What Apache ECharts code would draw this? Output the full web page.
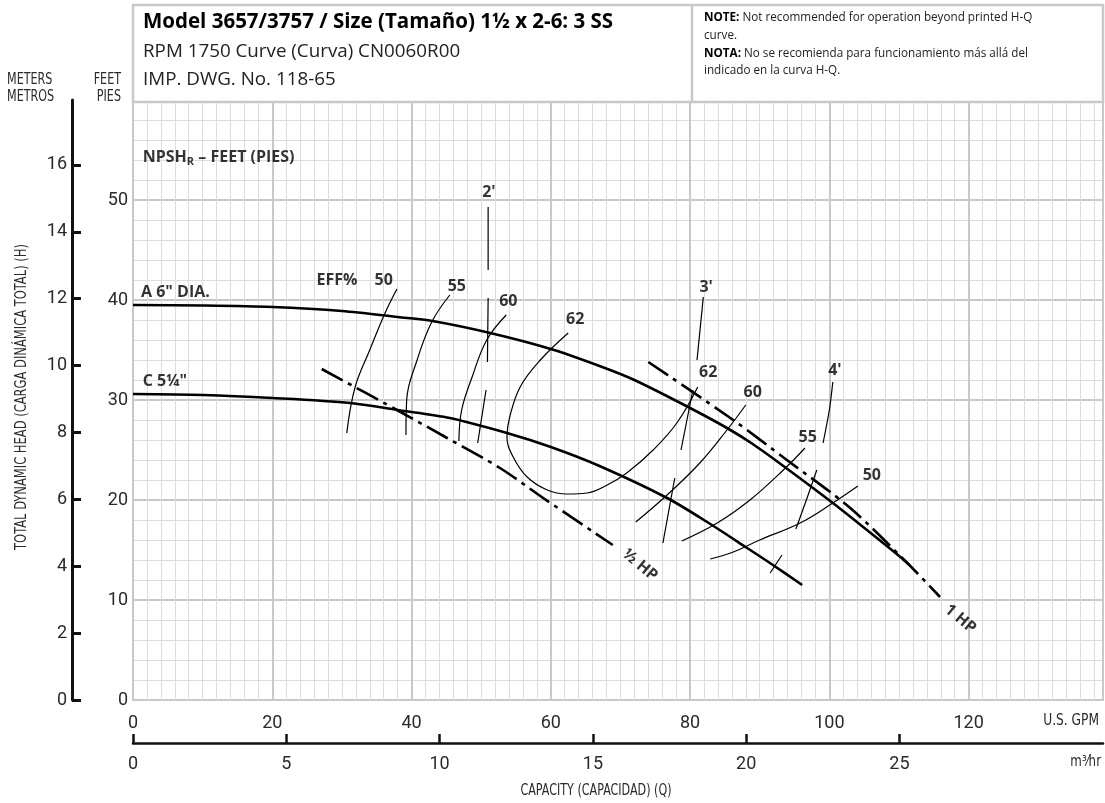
<!DOCTYPE html>
<html>
<head>
<meta charset="utf-8">
<script src="https://cdn.jsdelivr.net/npm/echarts@6/dist/echarts.min.js"></script>
<style>
  html, body { margin: 0; padding: 0; background: #fff; }
  #chart { width: 1105px; height: 803px; }
</style>
</head>
<body>
<div id="chart"></div>
<script>
// ---------- axis / tick data ----------
const gpmMax = 139.3;                 // right edge of the grid, U.S. GPM
const gpmPerM3h = 4.40287;            // 1 m3/hr = 4.40287 U.S. GPM
const gpmTicks = [0, 20, 40, 60, 80, 100, 120];
const m3hTicks = [0, 5, 10, 15, 20, 25];
const feetTicks = [0, 10, 20, 30, 40, 50];
const meterTicks = [0, 2, 4, 6, 8, 10, 12, 14, 16];
const feetMax = 60;
const meterMax = 17.94;

// ---------- head-capacity curves [GPM, feet] ----------
const headA = [[0,39.5],[10,39.45],[20,39.3],[30,38.9],[38,38.3],[43,37.9],[51.3,36.7],[60,35.1],[67,33.4],[72,32.0],[80,29.2],[85.3,27.2],[89,25.6],[93.4,23.4],[100.5,19.7],[105.4,17.0],[110.2,14.3],[111.5,13.5]];
const headC = [[0,30.6],[10,30.5],[20,30.2],[31.2,29.7],[38,29.0],[45.5,28.2],[53.7,26.7],[60,25.3],[67,23.4],[76.7,20.2],[82.9,17.6],[88.2,15.2],[91.9,13.5],[96.1,11.5]];

// ---------- horsepower lines ----------
const halfHp = [[27.1,33.1],[37.9,29.0],[45.1,26.2],[52.7,23.2],[58.9,20.2],[68.9,15.5]];
const oneHp = [[74,33.8],[86.2,28.0],[93.9,24.0],[103,19.2],[111.2,13.7],[115.9,10.3]];

// ---------- efficiency curves ----------
const eff50L = [[37.9,41.1],[36.2,38.7],[34.0,35.0],[31.9,31.3],[30.7,26.7]];
const eff55L = [[45.5,40.5],[42.9,37.8],[40.8,34.0],[39.3,30.0],[39.2,26.5]];
const eff60L = [[53.6,38.5],[50.8,36.0],[48.7,32.3],[47.2,29.0],[46.8,25.9]];
const eff62 = [[62.5,36.7],[58.5,34.0],[55.6,31.3],[54.1,28.3],[53.7,26.3],[54.6,24.3],[56.6,22.3],[59.5,21.0],[62.3,20.6],[65.2,20.7],[68.1,21.5],[70.9,22.7],[74.7,25.0],[78.1,27.7],[81.1,31.3]];
const eff60R = [[88,29.5],[85.3,27.0],[81.4,23.7],[76.7,20.5],[72.2,17.8]];
const eff55R = [[96.5,25.2],[93.4,23.0],[88.6,20.0],[83.9,17.7],[78.8,15.9]];
const eff50R = [[104.1,21.4],[100.5,19.7],[95.8,17.7],[90,16.0],[86.2,14.8],[82.9,14.1]];

// ---------- NPSHr lines (broken segments) ----------
const npsh2 = [[[51.0,49.3],[51.0,43.0]], [[51.0,40.2],[50.9,33.8]], [[50.7,31.0],[49.5,25.7]]];
const npsh3 = [[[81.9,40.3],[81.0,34.0]], [[80.4,31.0],[78.7,25.0]], [[77.8,22.2],[76.1,15.7]]];
const npsh4 = [[[100.5,31.8],[100.0,29.0],[99.1,25.7]], [[98.2,23.0],[96.7,20.0],[95.2,17.1]], [[93.2,14.5],[91.5,12.7]]];

// ---------- in-plot labels ----------
const centerLabelText = ['EFF%', '50', '55', '60', '62', '62', '60', '55', '50', "2'", "3'", "4'"];
const centerLabelPos = [[29.3,42.0],[36.0,42.0],[46.5,41.4],[53.9,39.9],[63.5,38.1],[82.6,32.8],[89.0,30.8],[96.9,26.3],[106.1,22.5],[51.1,50.8],[82.3,41.3],[100.8,33.0]];
const leftLabelText = ['A 6" DIA.', 'C 5¼"', 'NPSH{sub|R} – FEET (PIES)'];
const leftLabelPos = [[1.15,40.8],[1.4,31.9],[1.4,54.3]];
const hpLabelText = ['½ HP', '1 HP'];
const hpLabelPos = [[72.8,13.5],[118.8,8.1]];

const tickFont = "'Roboto', sans-serif";
const cond = "'DejaVu Sans Condensed', 'Roboto', sans-serif";
const sans = "'Open Sans', 'Noto Sans', sans-serif";
const tickColor = '#2a2a2a';

const chart = echarts.init(document.getElementById('chart'), null, { renderer: 'canvas' });

function line(data, width, extra) {
  return Object.assign({
    type: 'line', data: data, xAxisIndex: 1, yAxisIndex: 1,
    symbol: 'none', smooth: 0.3, silent: true,
    lineStyle: { color: '#000', width: width }
  }, extra || {});
}

const series = [];
series.push(line(headA, 2.6, { smooth: 0.3 }));
series.push(line(headC, 2.6, { smooth: 0.3 }));
series.push(line(halfHp, 2.6, { smooth: 0.3, lineStyle: { color: '#000', width: 2.6, type: [24, 6, 4, 6] } }));
series.push(line(oneHp, 2.6, { smooth: 0.3, lineStyle: { color: '#000', width: 2.6, type: [24, 6, 4, 6] } }));
[eff50L, eff55L, eff60L, eff62, eff60R, eff55R, eff50R].forEach(d => series.push(line(d, 1.2, { smooth: 0.4 })));
[npsh2, npsh3, npsh4].forEach(g => g.forEach(seg => series.push(line(seg, 1.2, { smooth: 0.3 }))));

series.push({
  type: 'scatter', xAxisIndex: 1, yAxisIndex: 1, symbolSize: 0, silent: true,
  data: centerLabelPos.map((p, i) => ({ value: p, name: centerLabelText[i] })),
  label: { show: true, position: 'inside', formatter: '{b}', color: '#000',
           fontFamily: sans, fontWeight: 'bold', fontSize: 16 }
});
series.push({
  type: 'scatter', xAxisIndex: 1, yAxisIndex: 1, symbolSize: 0, silent: true,
  data: leftLabelPos.map((p, i) => ({ value: p, name: leftLabelText[i] })),
  label: { show: true, position: 'right', distance: 0, formatter: '{b}', color: '#000',
           fontFamily: sans, fontWeight: 'bold', fontSize: 16,
           rich: { sub: { fontFamily: sans, fontWeight: 'bold', fontSize: 11, padding: [9, 0, 0, 0], color: '#000' } } }
});
series.push({
  type: 'scatter', xAxisIndex: 1, yAxisIndex: 1, symbolSize: 0, silent: true,
  data: hpLabelPos.map((p, i) => ({ value: p, name: hpLabelText[i] })),
  label: { show: true, position: 'inside', formatter: '{b}', color: '#000', rotate: -40,
           fontFamily: sans, fontWeight: 'bold', fontSize: 16 }
});

function condText(x, y, text, size, align, extra) {
  return Object.assign({
    type: 'text', x: x, y: y, scaleX: 0.8, silent: true,
    style: { text: text, fill: tickColor, font: size + 'px ' + cond, align: align, verticalAlign: 'middle' }
  }, extra || {});
}

const option = {
  animation: false,
  backgroundColor: '#fff',
  grid: { left: 133, right: 2, top: 100, bottom: 103, outerBoundsMode: 'none', containLabel: false,
          show: true, borderColor: '#c8c8c8', borderWidth: 2, backgroundColor: '#fff' },
  xAxis: [
    { type: 'value', position: 'bottom', min: 0, max: gpmMax, interval: 2,
      axisLine: { show: false, onZero: false }, axisTick: { show: false }, axisLabel: { show: false },
      splitLine: { show: true, lineStyle: { color: '#dddddd', width: 1 } } },
    { type: 'value', position: 'bottom', min: 0, max: gpmMax, interval: 20,
      axisLine: { show: false, onZero: false }, axisTick: { show: false },
      axisLabel: { customValues: gpmTicks, margin: 14, color: tickColor, fontFamily: tickFont, fontSize: 18 },
      splitLine: { show: true, lineStyle: { color: '#c8c8c8', width: 2 } } },
    { type: 'value', position: 'bottom', min: 0, max: gpmMax / gpmPerM3h, offset: 43,
      axisLine: { show: true, onZero: false, lineStyle: { color: '#111', width: 2.5 } },
      axisTick: { show: true, inside: true, length: 9, customValues: m3hTicks, lineStyle: { color: '#111', width: 2.5 } },
      axisLabel: { customValues: m3hTicks, margin: 12, color: tickColor, fontFamily: tickFont, fontSize: 18 },
      splitLine: { show: false } }
  ],
  yAxis: [
    { type: 'value', position: 'left', min: 0, max: feetMax, interval: 2,
      axisLine: { show: false, onZero: false }, axisTick: { show: false }, axisLabel: { show: false },
      splitLine: { show: true, lineStyle: { color: '#dddddd', width: 1 } } },
    { type: 'value', position: 'left', min: 0, max: feetMax, interval: 10,
      axisLine: { show: false, onZero: false }, axisTick: { show: false },
      axisLabel: { customValues: feetTicks, margin: 5, color: tickColor, fontFamily: tickFont, fontSize: 18 },
      splitLine: { show: true, lineStyle: { color: '#c8c8c8', width: 2 } } },
    { type: 'value', position: 'left', min: 0, max: meterMax, offset: 61,
      axisLine: { show: true, onZero: false, lineStyle: { color: '#111', width: 3 } },
      axisTick: { show: true, inside: true, length: 9, customValues: meterTicks, lineStyle: { color: '#111', width: 3 } },
      axisLabel: { customValues: meterTicks, margin: 5, color: tickColor, fontFamily: tickFont, fontSize: 18 },
      splitLine: { show: false } }
  ],
  graphic: [
    { type: 'rect', z: 50, shape: { x: 133, y: 5, width: 970, height: 97 },
      style: { fill: '#fff', stroke: '#c8c8c8', lineWidth: 2.5 } },
    { type: 'line', z: 51, shape: { x1: 692, y1: 5, x2: 692, y2: 102 }, style: { stroke: '#c8c8c8', lineWidth: 2.5 } },
    { type: 'text', z: 52, left: 143, top: 12,
      style: { text: 'Model 3657/3757 / Size (Tamaño) 1½ x 2-6: 3 SS', fill: '#000', font: 'bold 20.5px ' + sans } },
    { type: 'text', z: 52, left: 143, top: 42,
      style: { text: 'RPM 1750 Curve (Curva) CN0060R00', fill: '#222', font: '18.8px ' + sans } },
    { type: 'text', z: 52, left: 143, top: 70,
      style: { text: 'IMP. DWG. No. 118-65', fill: '#222', font: '18.8px ' + sans } },
    { type: 'text', z: 52, left: 704, top: 9,
      style: { text: '{b|NOTE:} Not recommended for operation beyond printed H-Q\ncurve.\n{b|NOTA:} No se recomienda para funcionamiento más allá del\nindicado en la curva H-Q.',
               fill: '#222', font: '11.7px ' + sans, lineHeight: 17.7,
               rich: { b: { fontWeight: 'bold', fontFamily: sans, fontSize: 11.7, fill: '#000' } } } },
    condText(7, 80, 'METERS', 15.5, 'left'),
    condText(7, 97, 'METROS', 15.5, 'left'),
    condText(121, 80, 'FEET', 15.5, 'right'),
    condText(121, 97, 'PIES', 15.5, 'right'),
    condText(22, 397, 'TOTAL DYNAMIC HEAD (CARGA DINÁMICA TOTAL) (H)', 16, 'center', { rotation: Math.PI / 2 }),
    condText(1099, 721, 'U.S. GPM', 16, 'right', { scaleX: 0.85 }),
    condText(1101, 762, 'm³⁄hr', 15.5, 'right', { scaleX: 0.85 }),
    condText(596, 791, 'CAPACITY (CAPACIDAD) (Q)', 15.5, 'center')
  ],
  series: series
};
chart.setOption(option);
</script>
</body>
</html>
